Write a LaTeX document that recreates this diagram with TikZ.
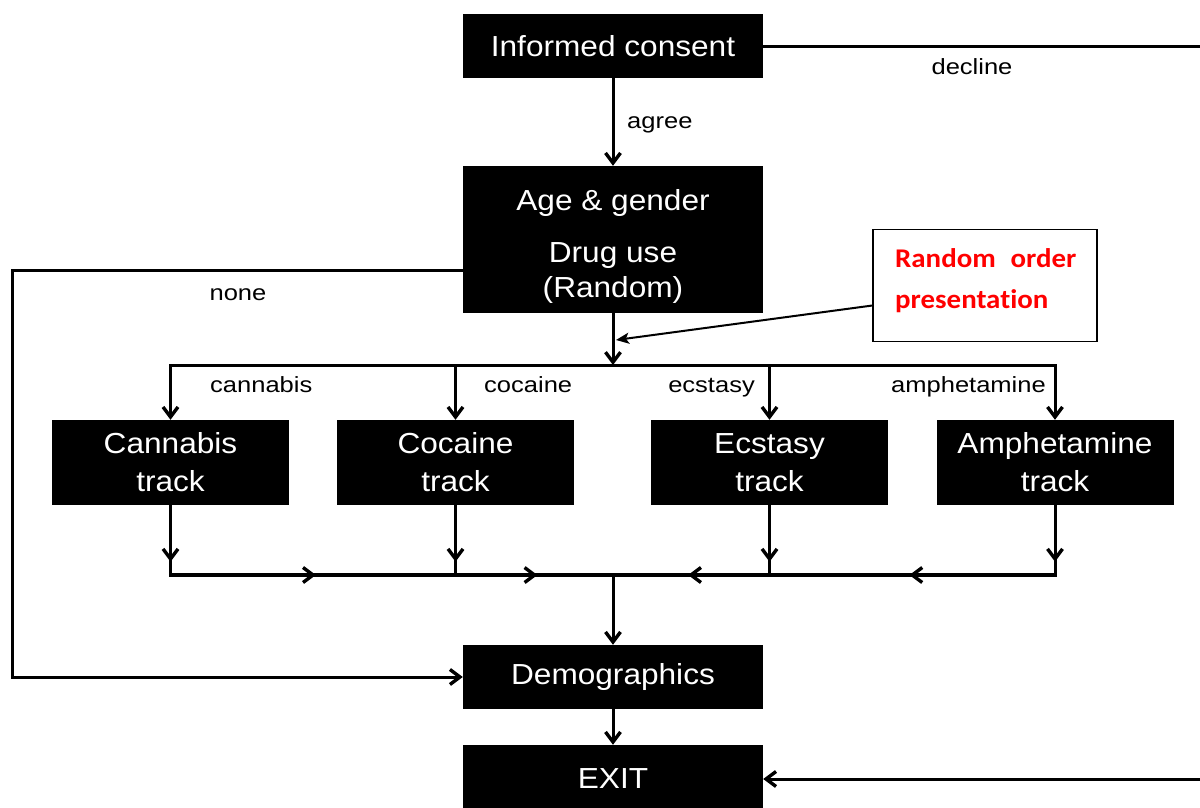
\documentclass[tikz,border=0pt]{standalone}
\usepackage{fontspec}
\setmainfont{Liberation Sans}
\newfontfamily\boxfont[FakeStretch=1.09]{Liberation Sans}
\newfontfamily\lblfont[FakeStretch=1.16]{Liberation Sans}
\newfontfamily\notefont[FakeStretch=1.07,Ligatures=NoCommon]{Carlito}
\usetikzlibrary{arrows.meta,decorations.markings,calc}
\definecolor{notered}{RGB}{255,0,0}
\begin{document}
\begin{tikzpicture}[x=1pt,y=-1pt,
  box/.style={fill=black, text=white, inner sep=0pt, align=center,
    font=\boxfont\fontsize{29}{38}\selectfont},
  wide/.style={minimum width=300pt, minimum height=64pt},
  trackbox/.style={minimum width=237pt, minimum height=85pt},
  boxtext/.style={text=white, inner sep=0pt, anchor=base,
    font=\boxfont\fontsize{29}{38}\selectfont},
  lbl/.style={inner sep=0pt, font=\lblfont\fontsize{22}{26}\selectfont},
  notetxt/.style={inner sep=0pt, anchor=base west, text=notered,
    font=\notefont\bfseries\fontsize{27}{40}\selectfont},
  conn/.style={line width=3pt},
  tip/.style={-{Straight Barb[length=10pt,width=15pt,line width=3.4pt]}},
  arr/.style={conn, tip},
  midarr/.style={conn, line cap=rect, postaction={decorate},
    decoration={markings, mark=at position #1 with {\arrow{Straight Barb[length=10pt,width=15pt,line width=3.4pt]}}}},
  midarr/.default=0.5,
]
\useasboundingbox (0,0) rectangle (1200,807);
\clip (0,0) rectangle (1200,807);

% boxes
\node[box, wide] (consent) at (613,46) {Informed consent};
\node[box, minimum width=300pt, minimum height=147pt] (age) at (613,239.5) {};
\node[boxtext] (age1) at (613,210) {Age \& gender};
\node[boxtext] (age2) at (613,262) {Drug use};
\node[boxtext] (age3) at (613,297) {(Random)};
\node[box, trackbox] (t1) at (170.5,462.5) {Cannabis\\track};
\node[box, trackbox] (t2) at (455.5,462.5) {Cocaine\\track};
\node[box, trackbox] (t3) at (769.5,462.5) {Ecstasy\\track};
\node[box, trackbox] (t4) at (1055,462.5) {Amphetamine\\track};
\node[box, wide] (demo) at (613,677) {Demographics};
\node[box, minimum width=300pt, minimum height=68pt] (exit) at (613,779) {EXIT};

% note
\node[draw=black, line width=1.3pt, fill=white, minimum width=224pt, minimum height=112pt, inner sep=0pt] (note) at (985,285.5) {};
\node[notetxt] (note1) at (895,267) {Random\hspace{0.55em}order};
\node[notetxt] (note2) at (895,308) {presentation};

% coordinates
\coordinate (rt) at (1215,46);
\coordinate (rb) at (1215,779);
\coordinate (lt) at (12,270);
\coordinate (lb) at (12,677);
\coordinate (top) at (613,365);
\coordinate (bot) at (613,575);
\coordinate (bc1) at (170.5,575);
\coordinate (bc2) at (455.5,575);
\coordinate (bc3) at (769.5,575);
\coordinate (bc4) at (1055,575);
\coordinate (ctip) at (616,340);

% connectors
\draw[arr] (consent) -- (age);
\draw[arr] (consent.east) -- (rt) -- (rb) -- (exit.east);
\draw[arr] ([yshift=-30.5pt]age.west) -- (lt) -- (lb) -- (demo.west);
\draw[arr] (age) -- (top);
\draw[arr] (top) -| (t1);
\draw[arr] (top) -| (t2);
\draw[arr] (top) -| (t3);
\draw[arr] (top) -| (t4);
\draw[midarr=0.81] (t1) -- (bc1);
\draw[midarr=0.81] (t2) -- (bc2);
\draw[midarr=0.81] (t3) -- (bc3);
\draw[midarr=0.81] (t4) -- (bc4);
\draw[midarr=0.51, line width=3.6pt] (bc1) -- (bc2);
\draw[midarr=0.52, line width=3.6pt] (bc2) -- (bot);
\draw[midarr=0.51, line width=3.6pt] (bc4) -- (bc3);
\draw[midarr=0.52, line width=3.6pt] (bc3) -- (bot);
\draw[arr] (bot) -- (demo);
\draw[arr] (demo) -- (exit);
\draw[line width=2pt, -{Stealth[length=13pt,width=11pt,inset=3pt]}] ([yshift=-20pt]note.west) -- (ctip);

% labels
\node[lbl, anchor=base west] (agree) at (627,128) {agree};
\node[lbl, anchor=base] (decline) at (972,74) {decline};
\node[lbl, anchor=base] (none) at (238,300) {none};
\node[lbl, anchor=base west] (lcan) at (210,392) {cannabis};
\node[lbl, anchor=base west] (lcoc) at (484,392) {cocaine};
\node[lbl, anchor=base east] (lecs) at (755,392) {ecstasy};
\node[lbl, anchor=base east] (lamp) at (1046,392) {amphetamine};
\end{tikzpicture}
\end{document}
